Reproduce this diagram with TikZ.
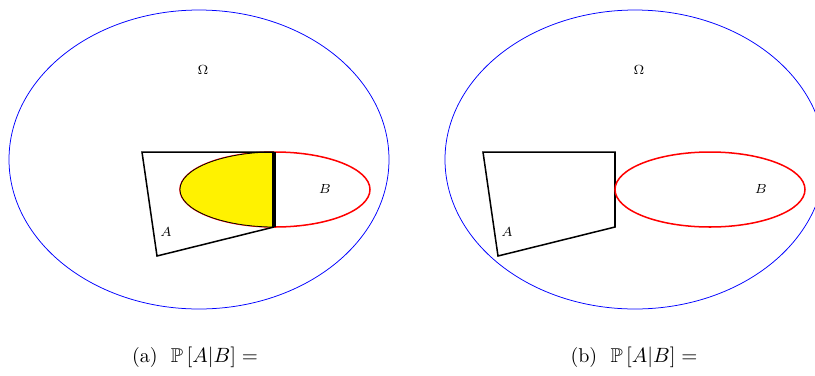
\documentclass[tikz,border=0pt]{standalone}
\usepackage{amsfonts,amssymb,amsmath}
\usepackage{xcolor}
\usepackage{tikz}
\usetikzlibrary{positioning}

\begin{document}
\begin{tikzpicture}[x=0.53pt,y=-0.53pt,
  omega/.style={blue},
  setB/.style={red,thick},
  setA/.style={black,thick},
  lbl/.style={font=\scriptsize},
  capt/.style={font=\fontsize{10.6}{13}\selectfont}]
\useasboundingbox (0,0) rectangle (815,375);
% (a) A and B overlap
\coordinate (oa) at (199,159.5);
\coordinate (ba) at (275,189.5);
\draw[omega] (oa) ellipse (190 and 149.5);
\node[lbl] (Oma) at (203,70) {$\Omega$};
\draw[setB] (ba) ellipse (95 and 37.5);
\begin{scope}
\clip (142,152)--(274,152)--(274,227)--(157,256)--cycle;
\filldraw[fill=yellow,draw=black] (ba) ellipse (95 and 37.5);
\end{scope}
\draw[setA] (274,227)--(157,256)--(142,152)--(274,152);
\draw[black,ultra thick] (274,152)--(274,227);
\node[lbl] (Aa) at (166,232) {$A$};
\node[lbl] (Ba) at (325,189) {$B$};
\node[capt] (capa) at (195,357) {(a)\ \ $\mathbb{P}\left[A|B\right] =$};
% (b) A and B disjoint
\coordinate (ob) at (635,159.5);
\coordinate (bb) at (710,189.5);
\draw[omega] (ob) ellipse (190 and 149.5);
\node[lbl] (Omb) at (639,70) {$\Omega$};
\draw[setA] (483,152)--(615,152)--(615,227)--(498,256)--cycle;
\draw[setB] (bb) ellipse (95 and 37.5);
\node[lbl] (Ab) at (507,232) {$A$};
\node[lbl] (Bb) at (761,189) {$B$};
\node[capt] (capb) at (634,357) {(b)\ \ $\mathbb{P}\left[A|B\right] =$};
\end{tikzpicture}
\end{document}
